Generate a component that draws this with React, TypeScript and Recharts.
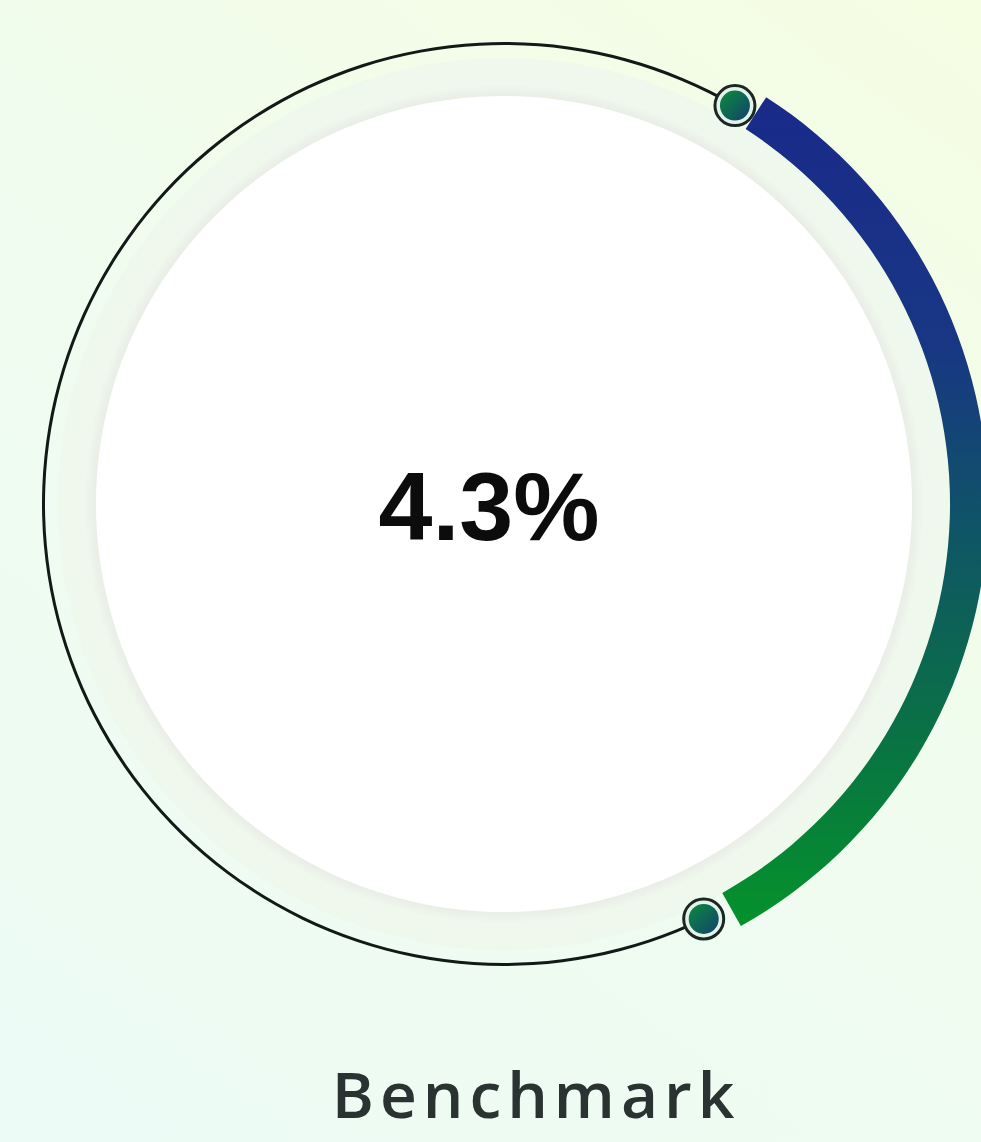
import { PieChart, Pie, Cell, Sector, Label } from "recharts"

// share of a full turn (percent), clockwise from the top end of the coloured band
const ringParts = ["Benchmark", "gapBottom", "Track", "gapTop"]
const ringShares = [32.75, 1.0, 65.5, 0.75]
const bandStartDeg = 57.2

const centreValue = "4.3%"
const caption = "Benchmark"

const W = 981
const H = 1142
const CX = 504
const CY = 504

const ringData = ringParts.map((name, i) => ({ name, value: ringShares[i] }))
const discData = [{ name: "disc", value: 1 }]

// track arc with the two end markers
const TrackShape = (props: any) => {
  const { cx, cy, innerRadius, outerRadius, startAngle, endAngle, payload } = props
  if (payload.name !== "Track") return <g />
  const r = (innerRadius + outerRadius) / 2
  const pt = (a: number) => ({
    x: cx + r * Math.cos((-a * Math.PI) / 180),
    y: cy + r * Math.sin((-a * Math.PI) / 180),
  })
  const ends = [pt(startAngle), pt(endAngle)]
  return (
    <g>
      <Sector {...props} fill="#121a18" stroke="none" />
      {ends.map((p, i) => (
        <g key={i}>
          <circle cx={p.x} cy={p.y} r={20} fill="#e4f3ea" stroke="#1c2624" strokeWidth={3} />
          <circle cx={p.x} cy={p.y} r={15} fill="url(#dotFill)" />
        </g>
      ))}
    </g>
  )
}

export default function App() {
  return (
    <div
      style={{
        position: "absolute",
        left: 0,
        top: 0,
        width: W,
        height: H,
        background: "linear-gradient(215deg, #f5fde2 0%, #f0fcee 45%, #ecfbf6 100%)",
        overflow: "hidden",
      }}
    >
      <PieChart width={W} height={H} margin={{ top: 0, right: 0, bottom: 0, left: 0 }}>
        <defs>
          <linearGradient id="bandFill" gradientUnits="userSpaceOnUse" x1="0" y1="100" x2="0" y2="930">
            <stop offset="0" stopColor="#1a2a8a" />
            <stop offset="0.3" stopColor="#183783" />
            <stop offset="0.52" stopColor="#0f5566" />
            <stop offset="0.75" stopColor="#0a7046" />
            <stop offset="1" stopColor="#04932a" />
          </linearGradient>
          <radialGradient id="ringFill" gradientUnits="userSpaceOnUse" cx={CX} cy={CY} r={446}>
            <stop offset="0.9" stopColor="#dcdfdc" />
            <stop offset="0.915" stopColor="#e9eee6" />
            <stop offset="0.94" stopColor="#f0f7ec" />
            <stop offset="1" stopColor="#eef9ec" />
          </radialGradient>
          <linearGradient id="dotFill" x1="0" y1="0" x2="1" y2="1">
            <stop offset="0" stopColor="#0b8c3c" />
            <stop offset="1" stopColor="#14406e" />
          </linearGradient>
        </defs>

        {/* soft inner ring */}
        <Pie
          data={discData}
          dataKey="value"
          cx={CX}
          cy={CY}
          innerRadius={400}
          outerRadius={446}
          startAngle={90}
          endAngle={-270}
          stroke="none"
          fill="url(#ringFill)"
          isAnimationActive={false}
        />

        {/* white face with the value */}
        <Pie
          data={discData}
          dataKey="value"
          cx={CX}
          cy={CY}
          innerRadius={0}
          outerRadius={408}
          startAngle={90}
          endAngle={-270}
          stroke="none"
          fill="#ffffff"
          isAnimationActive={false}
        >
          <Label
            position="center"
            content={() => (
              <text
                x={489}
                y={540}
                textAnchor="middle"
                fontFamily="'Liberation Sans', Arial, sans-serif"
                fontWeight={700}
                fontSize={97}
                fill="#0c0c0c"
              >
                {centreValue}
              </text>
            )}
          />
        </Pie>

        {/* coloured band */}
        <Pie
          data={ringData}
          dataKey="value"
          cx={CX}
          cy={CY}
          innerRadius={446}
          outerRadius={484}
          startAngle={bandStartDeg}
          endAngle={bandStartDeg - 360}
          stroke="none"
          isAnimationActive={false}
        >
          {ringData.map((d) => (
            <Cell key={d.name} fill={d.name === "Benchmark" ? "url(#bandFill)" : "none"} />
          ))}
        </Pie>

        {/* thin black track + end markers */}
        <Pie
          data={ringData}
          dataKey="value"
          cx={CX}
          cy={CY}
          innerRadius={459}
          outerRadius={462}
          startAngle={bandStartDeg}
          endAngle={bandStartDeg - 360}
          stroke="none"
          shape={TrackShape}
          isAnimationActive={false}
        />
      </PieChart>

      <div
        style={{
          position: "absolute",
          left: 0,
          width: 1072,
          top: 1062,
          textAlign: "center",
          fontFamily: "'Open Sans', sans-serif",
          fontWeight: 600,
          fontSize: 64,
          letterSpacing: 6,
          lineHeight: "64px",
          color: "#2a3332",
        }}
      >
        {caption}
      </div>
    </div>
  )
}
